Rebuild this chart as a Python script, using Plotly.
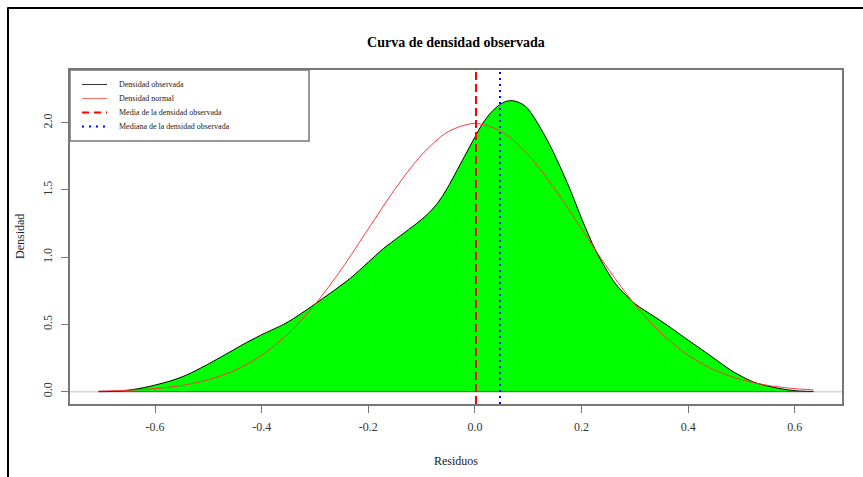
import plotly.graph_objects as go

# Kernel density estimate of the residuals
dens_x = [-0.706, -0.685, -0.664, -0.645, -0.621, -0.597, -0.571, -0.548, -0.527, -0.503,
          -0.478, -0.428, -0.395, -0.359, -0.3405, -0.32, -0.291, -0.235, -0.20, -0.172,
          -0.14, -0.11, -0.09, -0.0725, -0.06, -0.048, -0.0165, 0.0146, 0.030, 0.0458,
          0.058, 0.0707, 0.083, 0.0957, 0.108, 0.139, 0.1766, 0.2015, 0.2265, 0.264,
          0.301, 0.335, 0.3574, 0.40, 0.42, 0.44, 0.46, 0.482, 0.505, 0.5256,
          0.569, 0.603, 0.635]
dens_y = [0.000, 0.001, 0.005, 0.014, 0.030, 0.052, 0.080, 0.112, 0.150, 0.199,
          0.254, 0.366, 0.433, 0.500, 0.543, 0.597, 0.677, 0.839, 0.963, 1.063,
          1.159, 1.249, 1.315, 1.390, 1.460, 1.540, 1.772, 1.995, 2.075, 2.132,
          2.158, 2.164, 2.150, 2.119, 2.057, 1.846, 1.522, 1.274, 1.050, 0.801,
          0.652, 0.562, 0.503, 0.383, 0.328, 0.272, 0.215, 0.154, 0.104, 0.067,
          0.025, 0.006, 0.001]

# Normal density with the residuals' mean and standard deviation
norm_x = [-0.706, -0.65, -0.60, -0.55, -0.50, -0.45, -0.40, -0.35, -0.30, -0.25,
          -0.20, -0.15, -0.10, -0.05, 0.00, 0.05, 0.10, 0.15, 0.20, 0.25,
          0.30, 0.35, 0.40, 0.45, 0.50, 0.55, 0.60, 0.635]
norm_y = [0.004, 0.010, 0.022, 0.046, 0.088, 0.159, 0.270, 0.432, 0.648, 0.913,
          1.210, 1.506, 1.761, 1.934, 1.995, 1.934, 1.761, 1.506, 1.210, 0.913,
          0.648, 0.432, 0.270, 0.159, 0.088, 0.046, 0.022, 0.013]

mean_resid = 0.002
median_resid = 0.047

x_ticks = [-0.6, -0.4, -0.2, 0.0, 0.2, 0.4, 0.6]
x_tick_labels = ["-0.6", "-0.4", "-0.2", "0.0", "0.2", "0.4", "0.6"]
y_ticks = [0.0, 0.5, 1.0, 1.5, 2.0]
y_tick_labels = ["0.0", "0.5", "1.0", "1.5", "2.0"]

legend_labels = ["Densidad observada", "Densidad normal",
                 "Media de la densidad observada", "Mediana de la densidad observada"]

SERIF = "Liberation Serif"
W, H = 863, 477
ML, MR, MT, MB = 70, 21, 70, 73
PW, PH = W - ML - MR, H - MT - MB


def px(xp):
    return (xp - ML) / PW


def py(yp):
    return (H - MB - yp) / PH


fig = go.Figure()

fig.add_trace(go.Scatter(
    x=dens_x, y=dens_y, mode="lines", fill="tozeroy", fillcolor="#00ff00",
    line=dict(color="black", width=1, shape="spline", smoothing=0.8),
    showlegend=False, hoverinfo="skip"))

fig.add_trace(go.Scatter(
    x=norm_x, y=norm_y, mode="lines",
    line=dict(color="rgb(255,55,55)", width=1, shape="spline", smoothing=0.8),
    showlegend=False, hoverinfo="skip"))

shapes = []
# zero line across the panel
shapes.append(dict(type="line", xref="paper", yref="y", x0=0, x1=1, y0=0, y1=0,
                   line=dict(color="#d6d6d6", width=1.5), layer="below"))
# polygon base under the density
shapes.append(dict(type="line", xref="x", yref="y", x0=dens_x[0], x1=dens_x[-1], y0=0, y1=0,
                   line=dict(color="rgba(40,70,40,0.75)", width=1), layer="above"))
# mean and median markers
shapes.append(dict(type="line", xref="x", yref="paper", x0=mean_resid, x1=mean_resid, y0=0, y1=1,
                   line=dict(color="red", width=2, dash="8px,4px"), layer="above"))
shapes.append(dict(type="line", xref="x", yref="paper", x0=median_resid, x1=median_resid, y0=0, y1=1,
                   line=dict(color="blue", width=2, dash="2px,4px"), layer="above"))

# legend box
shapes.append(dict(type="rect", xref="paper", yref="paper",
                   x0=px(70), x1=px(309), y0=py(141), y1=py(70),
                   line=dict(color="#777777", width=1.5), fillcolor="white", layer="above"))
legend_rows = [84.5, 98.5, 112.5, 126.5]
legend_styles = [
    dict(color="#333333", width=1),
    dict(color="rgb(255,110,110)", width=1),
    dict(color="red", width=2, dash="7px,5px"),
    dict(color="blue", width=2, dash="2px,5px"),
]
annotations = []
for row, style, label in zip(legend_rows, legend_styles, legend_labels):
    shapes.append(dict(type="line", xref="paper", yref="paper",
                       x0=px(82), x1=px(107), y0=py(row), y1=py(row),
                       line=style, layer="above"))
    annotations.append(dict(text=label, xref="paper", yref="paper", x=px(117), y=py(row),
                            xanchor="left", yanchor="middle", showarrow=False,
                            font=dict(family=SERIF, size=8, color="#222222")))

# outer frame (top and left edges)
shapes.append(dict(type="line", xref="paper", yref="paper",
                   x0=px(7.5), x1=px(880), y0=py(8), y1=py(8),
                   line=dict(color="black", width=2), layer="above"))
shapes.append(dict(type="line", xref="paper", yref="paper",
                   x0=px(8), x1=px(8), y0=py(7.5), y1=py(490),
                   line=dict(color="black", width=2), layer="above"))

# axis titles
annotations.append(dict(text="Residuos", xref="paper", yref="paper", x=0.5, y=py(461),
                        xanchor="center", yanchor="middle", showarrow=False,
                        font=dict(family=SERIF, size=12, color="#222222")))
annotations.append(dict(text="Densidad", xref="paper", yref="paper", x=px(20), y=0.5,
                        xanchor="center", yanchor="middle", showarrow=False, textangle=-90,
                        font=dict(family=SERIF, size=12, color="#222222")))

axis_common = dict(showgrid=False, zeroline=False, showline=True, mirror=True,
                   linecolor="#777777", linewidth=1.5, ticks="outside", ticklen=7,
                   tickcolor="#777777", tickwidth=1.2,
                   tickfont=dict(family=SERIF, size=12, color="#333333"))

fig.update_layout(
    width=W, height=H,
    margin=dict(l=ML, r=MR, t=MT, b=MB),
    paper_bgcolor="white", plot_bgcolor="white",
    title=dict(text="<b>Curva de densidad observada</b>", x=0.5, xref="paper",
               y=1 - 42 / H, yref="container", xanchor="center", yanchor="middle",
               font=dict(family=SERIF, size=14, color="black")),
    xaxis=dict(range=[-0.7596, 0.6886], tickmode="array", tickvals=x_ticks,
               ticktext=x_tick_labels, ticklabelstandoff=4, **axis_common),
    yaxis=dict(range=[-0.092, 2.392], tickmode="array", tickvals=y_ticks,
               ticktext=y_tick_labels, tickangle=-90, ticklabelstandoff=4, **axis_common),
    shapes=shapes,
    annotations=annotations,
    showlegend=False,
)

fig.write_html("out.html")
